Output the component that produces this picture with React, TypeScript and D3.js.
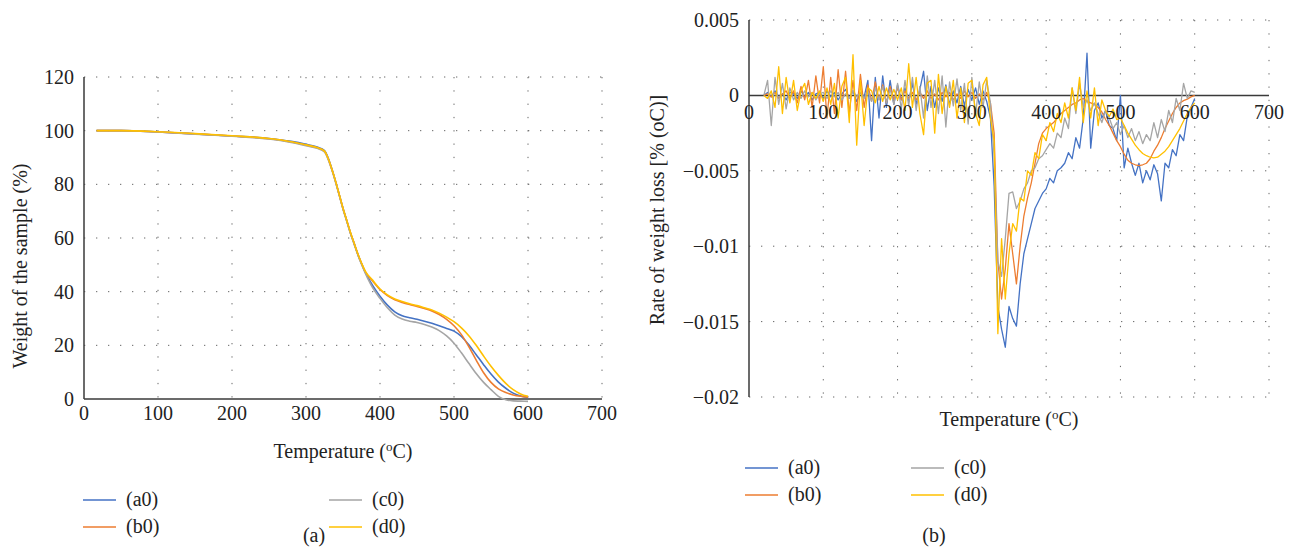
import * as d3 from "d3";

// series colours (Excel palette)
const colors = ["#4472C4", "#ED7D31", "#A5A5A5", "#FFC000"];
const seriesNames = ["(a0)", "(b0)", "(c0)", "(d0)"];

// axis ticks
const tempTicks = [0, 100, 200, 300, 400, 500, 600, 700];
const weightTicks = [0, 20, 40, 60, 80, 100, 120];
// rate values are kept in units of 0.001 %/°C
const rateTicks = [5, 0, -5, -10, -15, -20];
const rateTickLabels = ["0.005", "0", "\u22120.005", "\u22120.01", "\u22120.015", "\u22120.02"];

// (a) TGA curves: weight (%) vs temperature (°C)
const tgaTemps = [17, 50, 100, 150, 200, 250, 280, 300, 315, 325, 330, 335, 340, 345, 350, 355, 360, 365, 370, 375, 380,
  390, 400, 410, 420, 430, 440, 450, 460, 470, 480, 490, 500, 510, 520, 530, 540, 550, 560, 570, 580, 590, 600];
const tgaA0 = [100, 100, 99.5, 98.8, 98.0, 97.1, 96.0, 94.9, 93.9, 92.6, 89.8, 85.7, 81, 76, 71, 66.5, 62, 58, 54, 50.5, 47.3,
  42.3, 38.3, 35, 32.5, 31, 30.3, 29.7, 29, 28.2, 27.3, 26.3, 25.3, 23.3, 20.2, 16.5, 12.8, 9.3, 6.3, 4.0, 2.2, 1.1, 0.6];
const tgaB0 = [100, 100, 99.5, 98.8, 98.0, 97.0, 95.8, 94.6, 93.6, 92.3, 89.5, 85.5, 81, 76, 71, 66.5, 62, 58, 54, 50.5, 47.5,
  44, 40.8, 38.5, 37, 36, 35.2, 34.5, 33.7, 32.8, 31.5, 29.7, 27.3, 24, 19.5, 14.5, 9.8, 6.2, 3.8, 2.4, 1.5, 1.0, 0.7];
const tgaC0 = [100, 100, 99.5, 98.7, 97.9, 96.9, 95.6, 94.4, 93.4, 92.1, 89.3, 85.3, 80.8, 75.8, 70.8, 66.3, 61.8, 57.8, 53.8, 50.2, 47,
  41.5, 37.5, 34, 31.3, 29.8, 29, 28.5, 27.8, 26.8, 25.5, 23.5, 20.8, 17.2, 13.3, 9.5, 6.2, 3.5, 1.0, -0.3, -0.7, -0.8, -0.9];
const tgaD0 = [100, 100, 99.6, 98.9, 98.1, 97.1, 95.9, 94.7, 93.7, 92.4, 89.6, 85.6, 81.1, 76.1, 71.1, 66.6, 62.1, 58.1, 54.1, 50.7, 47.7,
  44.3, 41, 38.8, 37.3, 36.3, 35.5, 34.8, 34, 33.2, 32, 30.5, 28.8, 26.5, 23.6, 20, 16, 12.2, 8.8, 5.8, 3.5, 1.9, 1.0];

// (b) DTG curves: rate of weight loss (x 0.001 %/°C) vs temperature (°C)
const dtgTemps = [20, 25, 30, 35, 40, 45, 50, 55, 60, 65, 70, 75, 80, 85, 90, 95, 100, 105, 110, 115, 120, 125, 130, 135,
  140, 145, 150, 155, 160, 165, 170, 175, 180, 185, 190, 195, 200, 205, 210, 215, 220, 225, 230, 235, 240, 245, 250,
  255, 260, 265, 270, 275, 280, 285, 290, 295, 300, 305, 310, 315, 320, 325, 330, 335, 340, 345, 350, 355, 360, 365,
  370, 375, 380, 385, 390, 395, 400, 405, 410, 415, 420, 425, 430, 435, 440, 445, 450, 455, 460, 465, 470, 475, 480,
  485, 490, 495, 500, 505, 510, 515, 520, 525, 530, 535, 540, 545, 550, 555, 560, 565, 570, 575, 580, 585, 590, 595, 600];
const dtgA0 = [0, 0.2, -0.1, 0.3, -0.2, 0.1, -0.3, 0.2,
  0.1, -0.2, 0.3, -0.1, 0.2, -0.3, 0.1, 0.2, -0.2, 0.3, -0.1, 0.2, -0.3, 0.1, 0.4, -0.2, 0.3, -0.4, 0.2, -0.1,
  1.0, -3.0, 1.2, -1.5, 1.3, -0.8, 1.0, -0.6, 0.7,
  -0.3, 0.5, -0.4, 0.8, -0.6, 0.4, 1.6, -1.0, 0.6, -0.8, 0.5, -0.4, 0.7, -0.6, 0.3, -0.5, 0.6, -0.7, 0.4, -0.3, 0.5, -0.6, 0.3, -0.4,
  -1.5, -6, -14, -15.5, -16.7, -14, -14.8, -15.3, -12.5, -10.5, -9.5, -8.5, -7.5, -7.0, -6.5, -6.2, -5.5, -5.8, -5.0, -4.8,
  -4.5, -3.8, -4.2, -2.8, -3.5, -1.5, 2.8, -3.5, -1.0, -0.5, -1.5, -1.0, -2.0, -2.2, -3.0, 0, -4.8, -3.5, -4.5, -5.3,
  -4.5, -5.8, -5.0, -5.6, -4.6, -5.2, -7.0, -4.5, -4.8, -3.6, -4.0, -2.6, -3.0, -1.4, -0.8, -0.2];
const dtgB0 = [0, 0.1, -0.1, 0.2, -0.2, 0.1, 0.3, -0.2,
  0.3, -0.5, 0.6, -0.3, 1.0, -0.8, 1.3, -0.5, 1.9, -1.5, 1.2, -1.2, 1.7, -0.8, 1.6, -1.2, 1.0, -1.0, 1.4, -0.8,
  0.7, -0.4, 0.9, -0.3, 0.7, -0.5, 0.6, -0.3, 0.5,
  -0.3, 0.3, -0.2, 0.2, -0.3, 0.2, -0.2, 0.3, -0.2, 0.1, -0.3, 0.2, -0.1, 0.2, -0.3, 0.1, -0.2, 0.3, -0.1, 0.2, -0.2, 0.1, -0.3, 0.2,
  -0.5, -2.5, -11, -13.5, -11.5, -8.5, -10.5, -12.5, -10, -8, -6.8, -5.8, -4.5, -3.2, -2.5, -2.2, -2.0, -1.8, -1.5, -1.2,
  -1.0, -0.8, -0.6, -0.5, -0.3, -0.2, -0.4, -0.5, -0.6, -0.8, -1.1, -1.6, -2.0, -2.5, -3.0, -3.4, -3.9, -4.3, -4.5, -4.6,
  -4.65, -4.6, -4.5, -4.2, -3.7, -3.3, -2.8, -2.2, -1.7, -1.2, -0.8, -0.5, -0.35, -0.25, -0.1, 0];
const dtgC0 = [0, 1.0, -2.0, 1.2, -0.6, 0.8, -0.9, 0.5,
  -0.3, 0.2, -0.2, 0.3, -0.1, 0.2, -0.3, 0.1, 0.2, -0.2, 0.3, -0.1, 0.2, -0.3, 0.1, -0.2, 0.3, -0.1, 0.2, -0.2,
  0.3, -0.4, 0.5, -0.3, 0.6, -0.5, 0.4, -0.6, 0.8,
  -0.9, 1.0, -0.7, 1.2, -1.0, 0.6, -1.5, 1.3, -0.8, 1.0, -1.2, 1.3, -2.1, 0.9, -0.7, 1.1, -1.0, 0.8, -1.9, 1.2, -1.3, 0.9, -0.8, 1.0,
  -0.5, -4, -11, -12, -9.5, -6.5, -6.4, -7.5, -7.0, -6.2, -5.8, -5.0, -4.8, -4.2, -4.0, -3.6, -3.2, -3.5, -2.5, -2.8,
  -1.5, -2.2, 0.5, -1.2, 0.8, -0.8, -0.3, -1.0, -0.5, -1.2, -1.8, -1.0, -1.5, -2.2, -1.8, -2.6, -2.0, -2.8, -2.2, -3.0,
  -2.4, -3.2, -2.6, -3.0, -1.8, -2.8, -1.6, -2.4, -1.0, -1.8, -0.2, -1.0, 0.8, -0.2, 0.3, 0.2];
const dtgD0 = [0, -0.2, 0.3, -0.8, 1.9, -1.2, 1.2, -0.5,
  1.0, -1.0, 0.3, 0.8, -0.6, 0.2, -0.2, 0.3, -0.4, 0.5, -0.6, 0.8, -1.5, 0.6, 1.2, -1.8, 2.7, -3.3, 1.0, -2.0,
  0.5, 0.3, -0.5, 0.6, -0.4, 0.5, -0.3, 0.4, -0.3,
  0.5, -1.0, 2.1, -0.8, 1.2, -1.2, -2.6, 0.8, 1.0, -2.5, 1.4, -1.2, 0.6, -0.8, 1.0, -1.5, 0.5, -1.8, 0.8, 1.0, -1.2, -2.0, 0.7, 1.2,
  -1.5, -3, -15.8, -9.5, -13.5, -10.5, -8.5, -9.0, -6.8, -7.0, -5.0, -5.3, -3.8, -4.2, -2.6, -3.0, -1.8, -2.4, -1.2, -1.8,
  -0.5, -1.5, 0.5, -1.0, 1.2, -1.8, 0.3, -1.5, 0.5, -2.0, -0.3, -1.0, -1.4, -0.9, -1.6, -1.5, -2.0, -2.5, -2.9, -3.3,
  -3.6, -3.85, -4.0, -4.1, -4.15, -4.1, -3.9, -3.7, -3.4, -3.0, -2.6, -2.2, -1.7, -1.2, -0.8, -0.5];

const tgaSeries = [tgaA0, tgaB0, tgaC0, tgaD0];
const dtgSeries = [dtgA0, dtgB0, dtgC0, dtgD0];

const FONT = "'Liberation Serif', 'Times New Roman', serif";
const GRID = "#666";
const AXIS = "#3a3a3a";

function TempTitle({x, y}: {x: number; y: number}) {
  return (
    <text x={x} y={y} textAnchor="middle" fontSize={20} fill="#222">
      Temperature (<tspan fontSize={13} dy={-7}>o</tspan><tspan dy={7}>C)</tspan>
    </text>
  );
}

function Legend({x0, x1, y0, dy}: {x0: number; x1: number; y0: number; dy: number}) {
  // two columns: a0,b0 | c0,d0
  return (
    <g>
      {seriesNames.map((name, i) => {
        const cx = i < 2 ? x0 : x1;
        const cy = y0 + (i % 2) * dy;
        return (
          <g key={name}>
            <line x1={cx} x2={cx + 33} y1={cy} y2={cy} stroke={colors[i]} strokeWidth={1.6} />
            <text x={cx + 43} y={cy + 6} fontSize={20} fill="#222">{name}</text>
          </g>
        );
      })}
    </g>
  );
}

function TgaPanel() {
  const x = d3.scaleLinear().domain([0, 700]).range([84, 602]);
  const y = d3.scaleLinear().domain([0, 120]).range([399, 77]);
  const line = d3.line<number>()
    .x((_, i) => x(tgaTemps[i]))
    .y(d => y(d))
    .curve(d3.curveMonotoneX);

  return (
    <g>
      {weightTicks.filter(t => t > 0).map(t => (
        <line key={"h" + t} x1={x(0)} x2={x(700)} y1={y(t)} y2={y(t)}
              stroke={GRID} strokeWidth={1} strokeDasharray="1.3 10.7" />
      ))}
      {tempTicks.filter(t => t > 0).map(t => (
        <line key={"v" + t} x1={x(t)} x2={x(t)} y1={y(120)} y2={y(0)}
              stroke={GRID} strokeWidth={1} strokeDasharray="1.3 12" />
      ))}
      <line x1={x(0)} x2={x(0)} y1={y(120)} y2={y(0)} stroke={AXIS} strokeWidth={1.5} />
      <line x1={x(0)} x2={x(700)} y1={y(0)} y2={y(0)} stroke={AXIS} strokeWidth={1.5} />

      {tgaSeries.map((s, i) => (
        <path key={i} d={line(s) ?? ""} fill="none" stroke={colors[i]} strokeWidth={1.6} />
      ))}

      {weightTicks.map(t => (
        <text key={"yl" + t} x={74} y={y(t)} dy="0.35em" textAnchor="end" fontSize={20} fill="#222">{t}</text>
      ))}
      {tempTicks.map(t => (
        <text key={"xl" + t} x={x(t)} y={420} textAnchor="middle" fontSize={20} fill="#222">{t}</text>
      ))}
      <text transform="translate(27,266) rotate(-90)" textAnchor="middle" fontSize={20} fill="#222">
        Weight of the sample (%)
      </text>
      <TempTitle x={343} y={458} />
      <Legend x0={83} x1={329} y0={500} dy={27} />
      <text x={314} y={542} textAnchor="middle" fontSize={20} fill="#222">(a)</text>
    </g>
  );
}

function DtgPanel() {
  const x = d3.scaleLinear().domain([0, 700]).range([749, 1269]);
  const y = d3.scaleLinear().domain([-20, 5]).range([397, 20]);
  const line = d3.line<number>()
    .x((_, i) => x(dtgTemps[i]))
    .y(d => y(d));

  return (
    <g>
      {rateTicks.filter(t => t !== 0).map(t => (
        <line key={"h" + t} x1={x(0)} x2={x(700)} y1={y(t)} y2={y(t)}
              stroke={GRID} strokeWidth={1} strokeDasharray="1.3 10.7" />
      ))}
      {tempTicks.filter(t => t > 0).map(t => (
        <line key={"v" + t} x1={x(t)} x2={x(t)} y1={y(5)} y2={y(-20)}
              stroke={GRID} strokeWidth={1} strokeDasharray="1.3 12" />
      ))}
      <line x1={x(0)} x2={x(0)} y1={y(5)} y2={y(-20)} stroke={AXIS} strokeWidth={1.5} />
      <line x1={x(0)} x2={x(700)} y1={y(0)} y2={y(0)} stroke={AXIS} strokeWidth={1.5} />

      {dtgSeries.map((s, i) => (
        <path key={i} d={line(s) ?? ""} fill="none" stroke={colors[i]} strokeWidth={1.3}
              strokeLinejoin="round" />
      ))}

      {rateTicks.map((t, i) => (
        <text key={"yl" + t} x={739} y={y(t)} dy="0.35em" textAnchor="end" fontSize={20} fill="#222">
          {rateTickLabels[i]}
        </text>
      ))}
      {tempTicks.map(t => (
        <text key={"xl" + t} x={x(t)} y={119} textAnchor="middle" fontSize={20} fill="#222">{t}</text>
      ))}
      <text transform="translate(664,210) rotate(-90)" textAnchor="middle" fontSize={20} fill="#222">
        Rate of weight loss [% (oC)]
      </text>
      <TempTitle x={1009} y={426} />
      <Legend x0={745} x1={911} y0={468} dy={27} />
      <text x={934} y={542} textAnchor="middle" fontSize={20} fill="#222">(b)</text>
    </g>
  );
}

export default function App() {
  return (
    <svg width={1296} height={547} viewBox="0 0 1296 547"
         style={{position: "absolute", left: 0, top: 0, background: "#fff", fontFamily: FONT}}>
      <rect width={1296} height={547} fill="#fff" />
      <TgaPanel />
      <DtgPanel />
    </svg>
  );
}
